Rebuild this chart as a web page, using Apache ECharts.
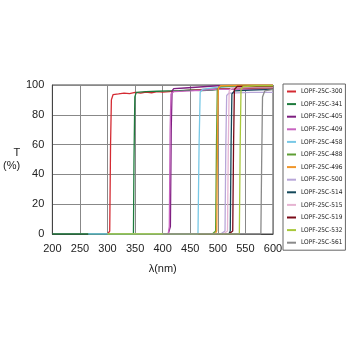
<!DOCTYPE html>
<html>
<head>
<meta charset="utf-8">
<script src="https://cdn.jsdelivr.net/npm/echarts@6/dist/echarts.min.js"></script>
<style>
  html, body { margin: 0; padding: 0; background: #fff; }
  #chart { width: 350px; height: 350px; }
</style>
</head>
<body>
<div id="chart"></div>
<script>
// filter names (legend order)
const names = ['LOPF-25C-300', 'LOPF-25C-341', 'LOPF-25C-405', 'LOPF-25C-409', 'LOPF-25C-458',
  'LOPF-25C-488', 'LOPF-25C-496', 'LOPF-25C-500', 'LOPF-25C-514', 'LOPF-25C-515',
  'LOPF-25C-519', 'LOPF-25C-532', 'LOPF-25C-561']
const colors = ['#d42a32', '#1d7a3c', '#7d1f80', '#c864c0', '#78c8e6',
  '#5e9e34', '#f0962a', '#b8a6d8', '#13485a', '#e6b4d2',
  '#7a0a18', '#a8c83a', '#8a8a8a']

// wavelength (nm) / transmission (%)
const wl300 = [300, 304, 305.5, 307, 310, 320, 330, 340, 350, 360, 370, 380, 390, 400, 450, 500, 600]
const t300  = [0, 2, 60, 90, 93.5, 94, 94.6, 94.2, 95, 94.6, 95.3, 94.8, 95.5, 95.2, 96.5, 97.5, 98]
const wl341 = [200, 347, 348, 349.5, 352, 370, 390, 410, 430, 450, 470, 490, 500, 600]
const t341  = [0, 0, 50, 92, 95, 95.5, 95.8, 96, 96.2, 96.5, 96.3, 96.5, 97, 97]
const wl405 = [410, 414, 415.5, 417, 420, 440, 460, 480, 500, 550, 600]
const t405  = [0, 5, 70, 96, 97.5, 98, 98.5, 99, 99.5, 99.5, 99.5]
const wl409 = [410, 412, 413.5, 415, 420, 450, 500, 600]
const t409  = [0, 5, 70, 94, 95.5, 96, 97, 97]
const wl458 = [265, 464, 466, 468, 472, 490, 520, 600]
const t458  = [0, 0, 60, 95, 97, 98, 99, 99]
const wl488 = [490, 496, 497.5, 499, 505, 550, 600]
const t488  = [0, 2, 60, 97, 99, 99.5, 99.5]
const wl496 = [495, 498, 499.5, 501, 505, 550, 600]
const t496  = [0, 2, 70, 98, 99.5, 100, 100]
const wl500 = [505, 513, 514.5, 516, 520, 560, 600]
const t500  = [0, 2, 60, 93, 94.5, 95, 95]
const wl514 = [520, 522.5, 524, 525.5, 530, 560, 600]
const t514  = [0, 2, 60, 94, 96, 96.5, 97]
const wl515 = [510, 517.5, 519, 520.5, 525, 560, 600]
const t515  = [0, 2, 60, 96, 98, 98.5, 98.5]
const wl519 = [520, 527, 528.5, 530, 535, 560, 600]
const t519  = [0, 2, 60, 97, 99, 99, 99]
const wl532 = [300, 539, 540.5, 542, 546, 570, 600]
const t532  = [0, 0, 60, 97, 99, 99.5, 99.5]
const wl561 = [400, 578, 579.5, 581, 585, 600]
const t561  = [0, 0, 50, 92, 96, 97]

const wls = [wl300, wl341, wl405, wl409, wl458, wl488, wl496, wl500, wl514, wl515, wl519, wl532, wl561]
const ts  = [t300, t341, t405, t409, t458, t488, t496, t500, t514, t515, t519, t532, t561]

const chart = echarts.init(document.getElementById('chart'))
const font = 'Liberation Sans, Arial, sans-serif'

chart.setOption({
  animation: false,
  color: colors,
  grid: {
    left: 51, right: 77, top: 85, bottom: 116,
    show: true, borderColor: '#444', borderWidth: 1
  },
  legend: {
    orient: 'vertical',
    left: 283, top: 84,
    padding: [4, 3, 4, 4],
    borderColor: '#666', borderWidth: 1,
    icon: 'rect', itemWidth: 9, itemHeight: 2,
    itemGap: 5.6,
    textStyle: { fontSize: 6.5, lineHeight: 7, color: '#222', fontFamily: 'Liberation Sans Narrow, DejaVu Sans Condensed, sans-serif' },
    data: names
  },
  xAxis: {
    type: 'value',
    min: 200, max: 600, interval: 50,
    name: 'λ(nm)', nameLocation: 'middle', nameGap: 29,
    nameTextStyle: { fontSize: 11, color: '#222', fontFamily: font },
    axisLine: { lineStyle: { color: '#444' } },
    axisTick: { show: false },
    axisLabel: { fontSize: 11, color: '#222', fontFamily: font, margin: 9 },
    splitLine: { lineStyle: { color: '#888', width: 1 } }
  },
  yAxis: {
    type: 'value',
    min: 0, max: 100, interval: 20,
    name: 'T\n(%)', nameLocation: 'middle', nameRotate: 0, nameGap: 30,
    nameTextStyle: { fontSize: 11, color: '#222', fontFamily: font, lineHeight: 13 },
    axisLine: { show: true, lineStyle: { color: '#444' } },
    axisTick: { show: false },
    axisLabel: { fontSize: 11, color: '#222', fontFamily: font, margin: 8 },
    splitLine: { lineStyle: { color: '#888', width: 1 } }
  },
  series: names.map((n, i) => ({
    name: n,
    type: 'line',
    showSymbol: false,
    lineStyle: { width: 1.3 },
    data: wls[i].map((w, j) => [w, ts[i][j]])
  }))
})
</script>
</body>
</html>
